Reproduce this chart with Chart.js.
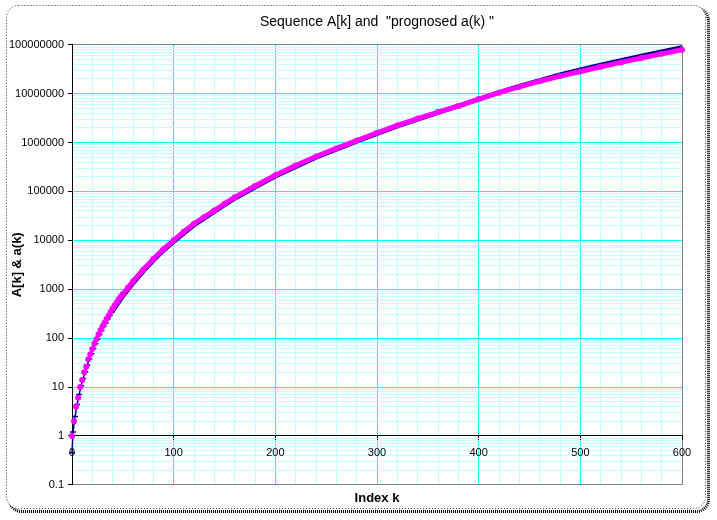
<!DOCTYPE html>
<html>
<head>
<meta charset="utf-8">
<script src="https://cdn.jsdelivr.net/npm/chart.js@4"></script>
<style>
  html, body { margin: 0; padding: 0; background: #fff; }
  canvas { display: block; }
</style>
</head>
<body>
<canvas id="chart" width="717" height="520"></canvas>
<script>
// "prognosed" a(k)
const kPrognosed = [0, 2, 4, 6, 8, 10, 12, 14, 16, 18, 20, 22, 24, 26, 28, 30, 32, 34, 36, 38,
    40, 42, 44, 46, 48, 50, 55, 60, 70, 80, 90, 100, 110, 120, 130, 140, 150, 160, 180, 200,
    220, 240, 260, 280, 300, 320, 340, 360, 380, 400, 420, 440, 460, 480, 500, 520, 540, 560, 580, 600];
const aPrognosed = [1, 2, 4, 6, 10, 14, 20, 26, 37, 47, 60, 78, 95, 118, 145, 174, 207, 245, 288, 343,
    403, 468, 543, 624, 708, 795, 1070, 1445, 2510, 4170, 6600, 10000, 15000, 21900, 30000, 40700, 56000, 76000, 129000, 214000,
    340000, 520000, 760000, 1100000, 1580000, 2240000, 3100000, 4200000, 5600000, 7760000, 10500000, 13800000, 18000000, 22900000,
    28500000, 35500000, 43700000, 53700000, 65300000, 79400000];

// sequence A[k], navy line
const kSequence = [0, 1, 3, 5, 7, 9, 11, 13, 15, 17, 19, 21, 23, 25, 27, 29, 31, 33, 35, 37, 39,
    45, 50, 60, 70, 80, 90, 100, 120, 140, 160, 180, 200, 240, 280, 320, 360, 400,
    420, 440, 460, 480, 500, 520, 540, 560, 580, 600];
const aSequence = [0.45, 1.2, 2.5, 4.4, 7, 10.6, 15, 20.5, 28, 37.5, 48, 61.5, 77, 95, 118, 143, 172, 205, 245, 290, 340,
    510, 720, 1330, 2330, 3900, 6200, 9400, 20600, 38500, 72000, 122000, 204000, 495000, 1060000, 2180000, 4100000, 7650000,
    10600000, 14200000, 18800000, 24400000, 31000000, 38800000, 48000000, 59000000, 72500000, 88500000];

// labelled decades on the y axis
const yDecades = [0.1, 1, 10, 100, 1000, 10000, 100000, 1000000, 10000000, 100000000];

const MAGENTA = '#ff00ff';
const NAVY = '#000080';
const MAJOR_GRID = '#00ffff';
const MINOR_GRID = '#c4ffff';
const EDGE = '#808080';

function toPoints(xs, ys) {
    return xs.map((x, i) => ({ x: x, y: ys[i] }));
}

// 1..9 in every decade, like Excel's minor gridlines
const yTicks = [];
for (const d of yDecades) {
    yTicks.push(d);
    if (d < 100000000) {
        for (let m = 2; m < 10; m++) yTicks.push(d * m);
    }
}
const isDecade = v => yDecades.some(d => Math.abs(v - d) < d * 1e-6);

// white card with a dotted outline and dark shadow
const framePlugin = {
    id: 'frame',
    beforeDraw(chart) {
        const ctx = chart.ctx;
        ctx.save();
        ctx.fillStyle = '#fff';
        ctx.fillRect(0, 0, chart.width, chart.height);
        ctx.beginPath();
        ctx.roundRect(9.5, 8.5, 699, 503, 12);
        ctx.lineWidth = 3;
        ctx.strokeStyle = '#000';
        ctx.setLineDash([1, 1]);
        ctx.stroke();
        ctx.beginPath();
        ctx.roundRect(6.5, 5.5, 699, 503, 12);
        ctx.fillStyle = '#fff';
        ctx.fill();
        ctx.lineWidth = 1;
        ctx.strokeStyle = '#333';
        ctx.setLineDash([1, 2]);
        ctx.stroke();
        ctx.restore();
    }
};

const font = { family: '"Liberation Sans", Arial, sans-serif', size: 11 };

new Chart('chart', {
    type: 'line',
    data: {
        datasets: [{
            label: 'a(k)',
            data: toPoints(kPrognosed, aPrognosed),
            borderColor: MAGENTA,
            borderWidth: 5,
            segment: {
                borderColor: ctx => ctx.p0.parsed.x < 48 ? 'rgba(0,0,0,0)' : MAGENTA,
            },
            pointStyle: 'circle',
            pointRadius: 3,
            pointBackgroundColor: MAGENTA,
            pointBorderWidth: 0,
            tension: 0,
            clip: 5,
        }, {
            label: 'A[k]',
            data: toPoints(kSequence, aSequence),
            borderColor: NAVY,
            borderWidth: 4.5,
            segment: {
                borderWidth: ctx => ctx.p0.parsed.x < 39 ? 1.5 : 4.5,
            },
            pointStyle: 'line',
            pointRadius: ctx => (ctx.raw && ctx.raw.x < 40 ? 3 : 0),
            pointBorderColor: NAVY,
            pointBorderWidth: 1.5,
            tension: 0,
            clip: 5,
        }],
    },
    options: {
        responsive: false,
        animation: false,
        devicePixelRatio: 1,
        events: [],
        layout: { padding: { left: 8, right: 35, top: 8, bottom: 13.6 } },
        scales: {
            x: {
                type: 'linear',
                axis: 'x',
                position: { y: 1 },
                min: 0,
                max: 600,
                ticks: {
                    stepSize: 20,
                    autoSkip: false,
                    maxRotation: 0,
                    padding: 6,
                    color: '#000',
                    font: font,
                    callback: v => (v % 100 === 0 ? String(v) : ''),
                },
                grid: {
                    color: ctx => {
                        const v = ctx.tick.value;
                        if (v === 0) return '#000';
                        if (v === 600) return EDGE;
                        return v % 100 === 0 ? MAJOR_GRID : MINOR_GRID;
                    },
                    tickColor: ctx => (ctx.tick.value % 100 === 0 ? '#000' : 'rgba(0,0,0,0)'),
                    tickLength: 4,
                },
                border: { display: true, color: '#000', width: 1 },
            },
            y: {
                type: 'logarithmic',
                position: 'left',
                min: 0.1,
                max: 100000000,
                afterBuildTicks: scale => {
                    scale.ticks = yTicks.map(v => ({ value: v, major: isDecade(v) }));
                },
                afterFit: scale => { scale.width = 64; },
                ticks: {
                    autoSkip: false,
                    padding: 4,
                    color: '#000',
                    font: font,
                    callback: v => (isDecade(v) ? String(v) : ''),
                },
                grid: {
                    color: ctx => {
                        const v = ctx.tick.value;
                        if (v === 0.1 || v === 100000000) return EDGE;
                        return isDecade(v) ? MAJOR_GRID : MINOR_GRID;
                    },
                    tickColor: ctx => (isDecade(ctx.tick.value) ? '#000' : 'rgba(0,0,0,0)'),
                    tickLength: 4,
                },
                border: { display: true, color: '#000', width: 1 },
                title: {
                    display: true,
                    text: 'A[k] & a(k)',
                    color: '#000',
                    padding: { top: 2, bottom: 0 },
                    font: { family: font.family, size: 13, weight: 'bold' },
                },
            },
        },
        plugins: {
            legend: { display: false },
            tooltip: { enabled: false },
            title: {
                display: true,
                fullSize: false,
                text: 'Sequence A[k] and  "prognosed a(k) "',
                color: '#000',
                padding: { top: 6, bottom: 14 },
                font: { family: font.family, size: 14, weight: 'normal' },
            },
            subtitle: {
                display: true,
                position: 'bottom',
                fullSize: false,
                text: 'Index k',
                color: '#000',
                padding: { top: 6, bottom: 0 },
                font: { family: font.family, size: 13, weight: 'bold' },
            },
        },
    },
    plugins: [framePlugin],
});
</script>
</body>
</html>
